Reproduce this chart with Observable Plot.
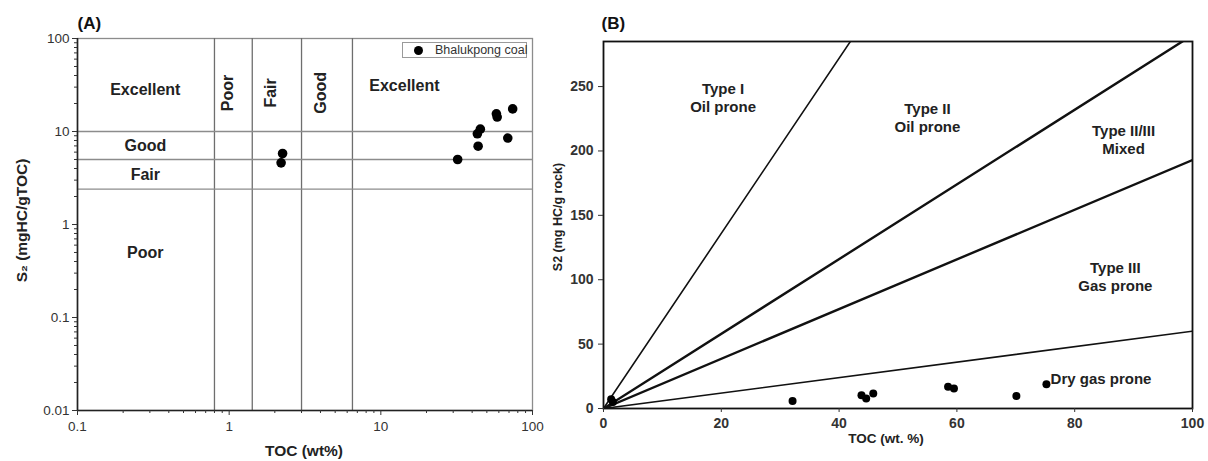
<!DOCTYPE html>
<html>
<head>
<meta charset="utf-8">
<script src="https://cdn.jsdelivr.net/npm/d3@7"></script>
<script src="https://cdn.jsdelivr.net/npm/@observablehq/plot@0.6"></script>
<style>
  html, body { margin: 0; padding: 0; background: white; }
  #wrap { display: flex; width: 1208px; height: 461px; position: relative; font-family: "Liberation Sans", Arial, sans-serif; }
  #wrap svg { display: block; }
  .legend { position: absolute; left: 402px; top: 42px; width: 125px; height: 16px; border: 1px solid #9a9a9a; background: white; font-size: 12.5px; color: #333; box-sizing: border-box; }
  .legend .dot { position: absolute; left: 11px; top: 3px; width: 9px; height: 9px; border-radius: 50%; background: #000; }
  .legend .lab { position: absolute; left: 32px; top: 0px; line-height: 15px; white-space: nowrap; }
</style>
</head>
<body>
<div id="wrap"></div>
<script>
// ---------- Panel A data ----------
const tocA = [2.2, 2.25, 32.1, 43.8, 43.3, 45.3, 57.8, 58.5, 68.7, 74];
const s2A  = [4.6, 5.8, 5.0, 6.95, 9.45, 10.6, 15.5, 14.3, 8.5, 17.5];
const tocLimitsA = [0.8, 1.42, 3, 6.5];
const s2LimitsA = [2.4, 5, 10];
const xTicksA = [0.1, 1, 10, 100];
const xTickLabelsA = ["0.1", "1", "10", "100"];
const yTicksA = [0.01, 0.1, 1, 10, 100];
const yTickLabelsA = ["0.01", "0.1", "1", "10", "100"];
const s2ClassLabels = ["Excellent", "Good", "Fair", "Poor"];
const s2ClassY = [28, 7.0, 3.4, 0.49];
const tocClassLabels = ["Poor", "Fair", "Good"];
const tocClassX = [0.98, 1.87, 4.0];
const tocClassYPos = 26;
const excellentTocLabel = {text: "Excellent", x: 14.3, y: 31};

// ---------- Panel B data ----------
const tocB = [1.3, 1.6, 32.1, 43.8, 44.6, 45.8, 58.5, 59.5, 70.1, 75.2];
const s2B  = [7.2, 5.0, 5.9, 10.3, 7.7, 11.6, 16.8, 15.5, 9.8, 18.9];
const boundarySlopes = [6.8, 2.9, 1.93, 0.6];
const boundaryWidths = [1.6, 2.4, 2.4, 1.6];
const xTicksB = [0, 20, 40, 60, 80, 100];
const yTicksB = [0, 50, 100, 150, 200, 250];
const typeLabels = ["Type I\nOil prone", "Type II\nOil prone", "Type II/III\nMixed", "Type III\nGas prone"];
const typeLabelX = [20.3, 55.0, 88.3, 86.9];
const typeLabelY = [242, 226, 209, 103];
const dryGas = {text: "Dry gas prone", x: 75.9, y: 22.7};

const font = "'Liberation Sans', Arial, Helvetica, sans-serif";

// ---------- Panel A ----------
const ptsA = tocA.map((t, i) => ({toc: t, s2: s2A[i]}));
const minorX = d3.scaleLog().domain([0.1, 100]).ticks().filter(v => !xTicksA.includes(v));
const minorY = d3.scaleLog().domain([0.01, 100]).ticks().filter(v => !yTicksA.includes(v));

const chartA = Plot.plot({
  width: 550, height: 461,
  marginLeft: 77, marginRight: 18, marginTop: 38, marginBottom: 51,
  style: {fontFamily: font, background: "white", color: "#222"},
  x: {type: "log", domain: [0.1, 100], axis: null},
  y: {type: "log", domain: [0.01, 100], axis: null},
  marks: [
    Plot.frame({stroke: "#8c8c8c", strokeWidth: 1.3}),
    Plot.ruleX(tocLimitsA, {stroke: "#6e6e6e", strokeWidth: 1.3}),
    Plot.ruleY(s2LimitsA, {stroke: "#8c8c8c", strokeWidth: 1.3}),
    Plot.ruleX([0.1], {stroke: "#222", strokeWidth: 1.6}),
    Plot.ruleY([0.01], {stroke: "#222", strokeWidth: 1.6}),
    Plot.axisX(minorX, {tickSize: 3, tickFormat: () => "", label: null, stroke: "#333"}),
    Plot.axisY(minorY, {tickSize: 3, tickFormat: () => "", label: null, stroke: "#333"}),
    Plot.axisX(xTicksA, {tickSize: 5, tickPadding: 6, tickFormat: (d) => xTickLabelsA[xTicksA.indexOf(d)], label: null, fontSize: 13.5, fill: "#333", stroke: "#333"}),
    Plot.axisY(yTicksA, {tickSize: 5, tickPadding: 3, tickFormat: (d) => yTickLabelsA[yTicksA.indexOf(d)], label: null, fontSize: 13.5, fill: "#333", stroke: "#333"}),
    Plot.text(s2ClassLabels, {x: () => 0.28, y: (d, i) => s2ClassY[i], text: d => d, fontSize: 16, fontWeight: "bold", fill: "#222"}),
    Plot.text(tocClassLabels, {x: (d, i) => tocClassX[i], y: () => tocClassYPos, text: d => d, rotate: -90, fontSize: 16, fontWeight: "bold", fill: "#222"}),
    Plot.text([excellentTocLabel], {x: "x", y: "y", text: "text", fontSize: 16, fontWeight: "bold", fill: "#222"}),
    Plot.dot(ptsA, {x: "toc", y: "s2", r: 4.8, fill: "#000"}),
    Plot.text(["(A)"], {frameAnchor: "top-left", textAnchor: "start", lineAnchor: "middle", dy: -15, dx: 0, fontSize: 17, fontWeight: "bold", fill: "#111"}),
    Plot.text(["S₂ (mgHC/gTOC)"], {frameAnchor: "left", textAnchor: "middle", lineAnchor: "middle", rotate: -90, dx: -55, dy: -4, fontSize: 15.5, fontWeight: "bold", fill: "#222"}),
    Plot.text(["TOC (wt%)"], {frameAnchor: "bottom", lineAnchor: "middle", dx: -1, dy: 41, fontSize: 15.5, fontWeight: "bold", fill: "#222"})
  ]
});

// ---------- Panel B ----------
const ptsB = tocB.map((t, i) => ({toc: t, s2: s2B[i]}));
const lineData = boundarySlopes.flatMap((s, i) => [
  {id: i, toc: 0, s2: 0},
  {id: i, toc: 100, s2: s * 100}
]);

const chartB = Plot.plot({
  width: 658, height: 461,
  marginLeft: 53, marginRight: 16, marginTop: 41, marginBottom: 53,
  style: {fontFamily: font, background: "white", color: "#222"},
  x: {domain: [0, 100], axis: null},
  y: {domain: [0, 285], axis: null},
  marks: [
    ...boundarySlopes.map((s, i) => Plot.line(lineData.filter(d => d.id === i), {x: "toc", y: "s2", stroke: "#111", strokeWidth: boundaryWidths[i], clip: true})),
    Plot.frame({stroke: "#111", strokeWidth: 1.8}),
    Plot.axisX(xTicksB, {tickSize: 4, tickPadding: 6, label: null, fontSize: 14, fontWeight: "bold", fill: "#333", stroke: "#333"}),
    Plot.axisY(yTicksB, {tickSize: 5, tickPadding: 5, label: null, fontSize: 14, fontWeight: "bold", fill: "#333", stroke: "#333"}),
    Plot.text(typeLabels, {x: (d, i) => typeLabelX[i], y: (d, i) => typeLabelY[i], text: d => d, lineHeight: 1.2, fontSize: 15, fontWeight: "bold", fill: "#222"}),
    Plot.text([dryGas], {x: "x", y: "y", text: "text", textAnchor: "start", fontSize: 15, fontWeight: "bold", fill: "#222"}),
    Plot.dot(ptsB, {x: "toc", y: "s2", r: 4, fill: "#000"}),
    Plot.text(["(B)"], {frameAnchor: "top-left", textAnchor: "start", lineAnchor: "middle", dy: -18, dx: -2, fontSize: 17, fontWeight: "bold", fill: "#111"}),
    Plot.text(["S2 (mg HC/g rock)"], {frameAnchor: "left", textAnchor: "middle", lineAnchor: "middle", rotate: -90, dx: -46, dy: -8, fontSize: 12.5, fontWeight: "bold", fill: "#222"}),
    Plot.text(["TOC (wt. %)"], {frameAnchor: "bottom", lineAnchor: "middle", dx: -12, dy: 30, fontSize: 13.5, fontWeight: "bold", fill: "#222"})
  ]
});

const wrap = document.getElementById("wrap");
wrap.appendChild(chartA);
wrap.appendChild(chartB);
const leg = document.createElement("div");
leg.className = "legend";
leg.innerHTML = '<span class="dot"></span><span class="lab">Bhalukpong coal</span>';
wrap.appendChild(leg);
</script>
</body>
</html>
